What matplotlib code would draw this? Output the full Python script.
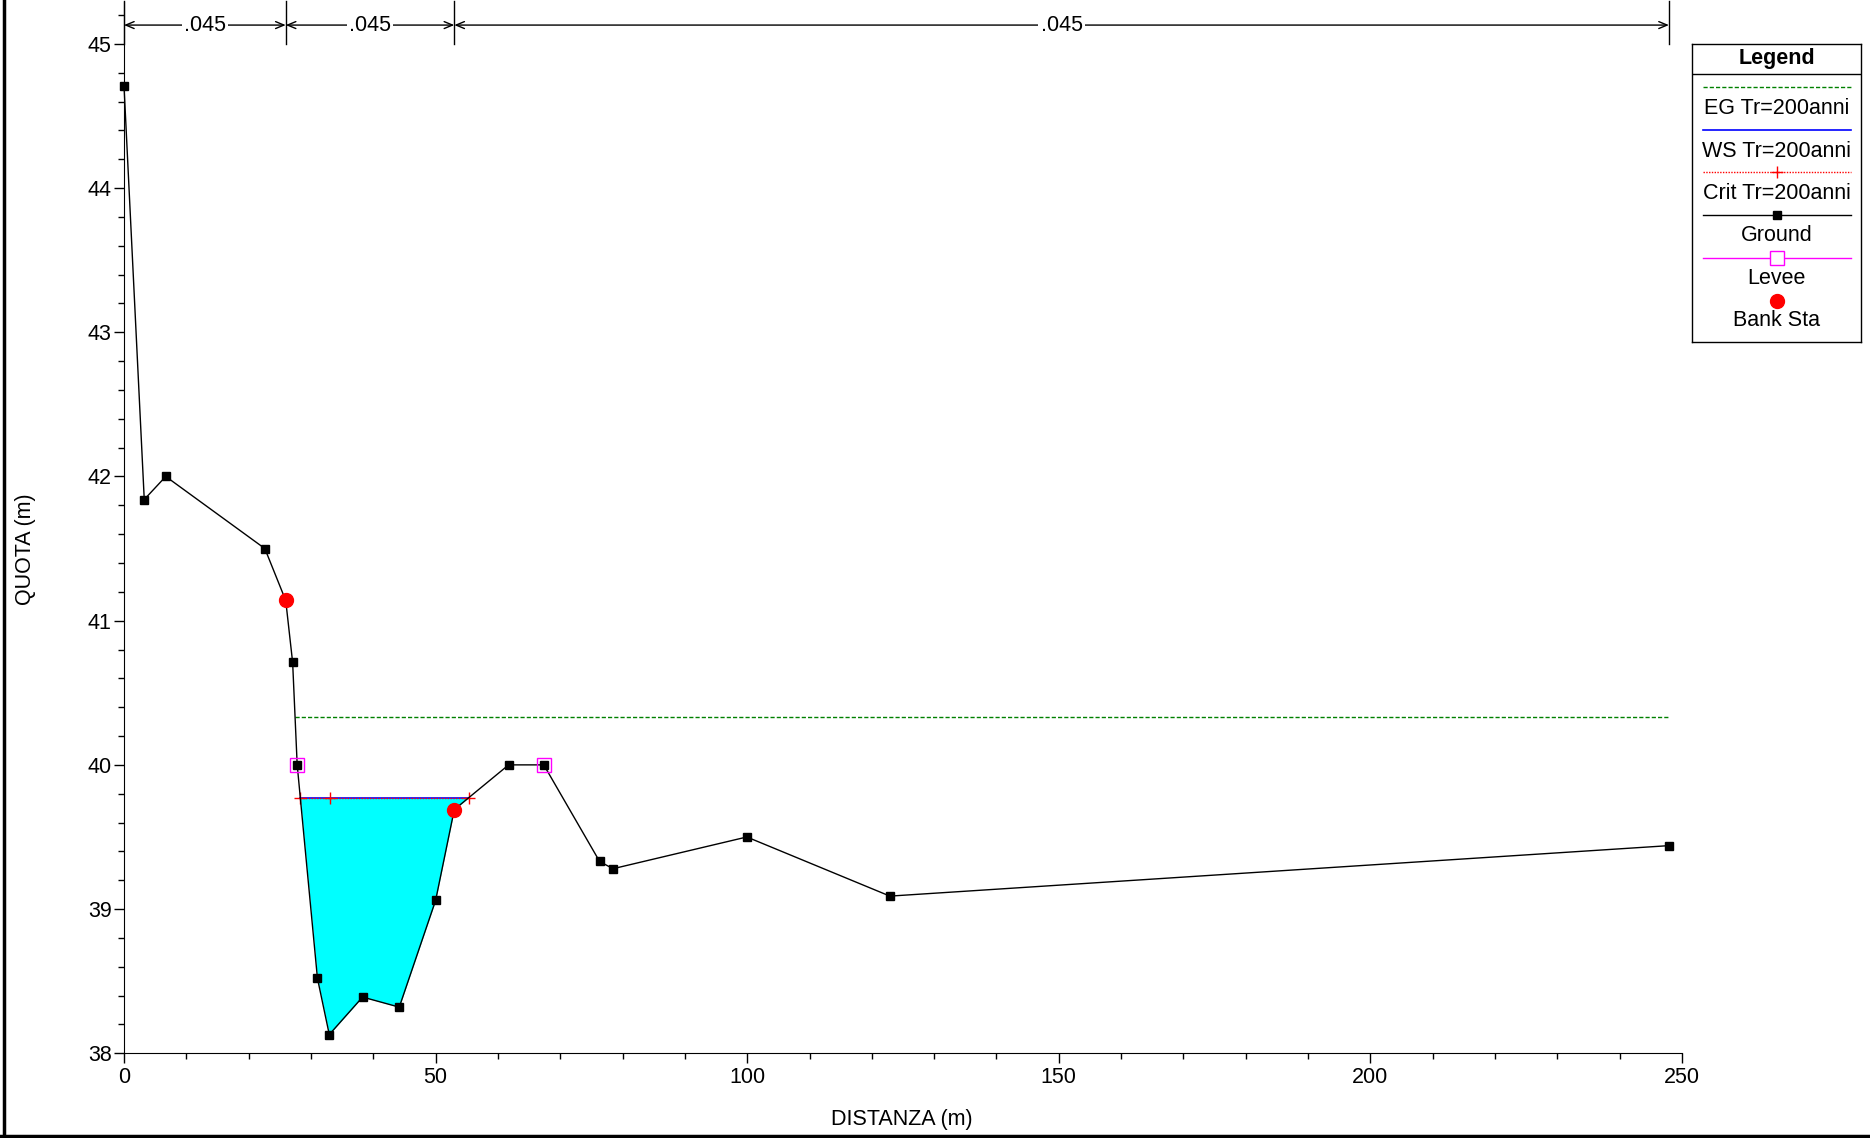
import numpy as np
import matplotlib
matplotlib.use("Agg")
import matplotlib.pyplot as plt
from matplotlib.ticker import MultipleLocator

plt.rcParams['font.family'] = ['Liberation Sans', 'DejaVu Sans']

# Sezione trasversale
ground_x = [0, 3.25, 6.7, 22.6, 25.95, 27.06, 27.79, 31.04, 32.94, 38.28, 44.17,
            50.0, 53.0, 61.72, 67.36, 76.32, 78.47, 99.94, 122.9, 247.9]
ground_y = [44.71, 41.84, 42.0, 41.5, 41.14, 40.71, 40.0, 38.52, 38.13, 38.39, 38.32,
            39.06, 39.69, 40.0, 40.0, 39.33, 39.28, 39.5, 39.09, 39.44]

ws_x = [28.28, 55.34]
ws_level = 39.77
crit_x = [28.28, 33.0, 55.34]
crit_level = 39.77
eg_x = [27.45, 247.9]
eg_level = 40.33

levee_x = [27.79, 67.36]
levee_y = [40.0, 40.0]
bank_x = [25.95, 53.0]
bank_y = [41.14, 39.69]

# coefficienti di Manning
n_bounds = [0, 25.95, 53.0, 247.9]
n_values = [".045", ".045", ".045"]

legend_labels = ["EG Tr=200anni", "WS Tr=200anni", "Crit Tr=200anni",
                 "Ground", "Levee", "Bank Sta"]

FS = 15.5
W, H = 1870, 1138
fig = plt.figure(figsize=(W / 100, H / 100), dpi=100)
ax = fig.add_axes([124 / W, 1 - 1053.3 / H, 1558 / W, 1051.3 / H])
ax.set_xlim(0, 250)
ax.set_ylim(38, 45.29)
for s in ['top', 'right']:
    ax.spines[s].set_visible(False)
ax.xaxis.set_major_locator(MultipleLocator(50))
ax.xaxis.set_minor_locator(MultipleLocator(10))
ax.yaxis.set_major_locator(MultipleLocator(1))
ax.yaxis.set_minor_locator(MultipleLocator(0.2))
ax.set_yticks(np.arange(38, 46, 1))
ax.tick_params(which='major', length=7, width=1, labelsize=FS)
ax.tick_params(which='minor', length=4.5, width=1)
ax.tick_params(axis='x', which='major', pad=3)
ax.tick_params(axis='y', which='major', pad=2)

# area bagnata
gx = np.array(ground_x)
gy = np.array(ground_y)
inside = (gx > ws_x[0]) & (gx < ws_x[1])
fx = np.concatenate([[ws_x[0]], gx[inside], [ws_x[1]]])
fy = np.interp(fx, gx, gy)
ax.fill_between(fx, fy, ws_level, color='#00ffff', lw=0, zorder=1)

ax.plot(eg_x, [eg_level] * 2, color='#008000', ls=(0, (3, 1.5)), lw=1, zorder=2)
ax.plot(ws_x, [ws_level] * 2, color='#0000ff', lw=1.2, zorder=2)
ax.plot(crit_x, [crit_level] * len(crit_x), color='red', ls=(0, (1, 1)), lw=1,
        marker='+', ms=8, mew=1, zorder=3)
ax.plot(ground_x, ground_y, color='black', lw=1, marker='s', ms=6, zorder=4,
        clip_on=False)
ax.plot(levee_x, levee_y, ls='none', marker='s', ms=10, mfc='none', mec='#ff00ff',
        mew=1, zorder=5)
ax.plot(bank_x, bank_y, ls='none', marker='o', ms=10, color='red', zorder=6)

# bande di Manning in alto
y_band = 45.13
for xb in n_bounds:
    ax.plot([xb, xb], [45.0, 45.3], color='black', lw=1, clip_on=False, zorder=5)
for i, val in enumerate(n_values):
    a, b = n_bounds[i], n_bounds[i + 1]
    ax.annotate("", xy=(a, y_band), xytext=(b, y_band), annotation_clip=False,
                arrowprops=dict(arrowstyle='<->,head_length=0.6,head_width=0.25',
                                color='black', lw=1, shrinkA=0, shrinkB=0))
    ax.text((a + b) / 2, y_band, val, ha='center', va='center', fontsize=FS,
            bbox=dict(facecolor='white', edgecolor='none', pad=1.5), clip_on=False)

fig.text(26 / W, 1 - 549 / H, "QUOTA (m)", rotation=90, ha='center', va='center',
         fontsize=FS)
fig.text(902 / W, 1 - 1119 / H, "DISTANZA (m)", ha='center', va='center', fontsize=FS)

# legenda
lg = fig.add_axes([1692 / W, 1 - 342 / H, 169 / W, 298 / H])
lg.set_xlim(0, 169)
lg.set_ylim(298, 0)
lg.set_xticks([])
lg.set_yticks([])
for s in lg.spines.values():
    s.set_linewidth(1)
lg.text(84.5, 14.5, "Legend", ha='center', va='center', fontsize=FS, fontweight='bold')
lg.plot([0, 169], [30, 30], color='black', lw=1)
x0, x1, xm = 10.7, 159, 84.5
sy = [43.3, 85.7, 128.3, 171, 213.7, 257]
ty = [65, 107.5, 149.5, 192, 234.5, 277]
lg.plot([x0, x1], [sy[0]] * 2, color='#008000', ls=(0, (3, 1.5)), lw=1)
lg.plot([x0, x1], [sy[1]] * 2, color='#0000ff', lw=1.2)
lg.plot([x0, x1], [sy[2]] * 2, color='red', ls=(0, (1, 1)), lw=1)
lg.plot([xm], [sy[2]], color='red', marker='+', ms=8, mew=1)
lg.plot([x0, x1], [sy[3]] * 2, color='black', lw=1)
lg.plot([xm], [sy[3]], color='black', marker='s', ms=6)
lg.plot([x0, x1], [sy[4]] * 2, color='#ff00ff', lw=1)
lg.plot([xm], [sy[4]], marker='s', ms=10, mfc='white', mec='#ff00ff', mew=1)
lg.plot([xm], [sy[5]], marker='o', ms=10, color='red')
for t, lab in zip(ty, legend_labels):
    lg.text(xm, t, lab, ha='center', va='center', fontsize=FS)

# cornice a sinistra e in basso
fig.add_artist(plt.Line2D([4 / W, 4 / W], [0, 1], color='black', lw=2.5,
                          transform=fig.transFigure))
fig.add_artist(plt.Line2D([0, 1], [2 / H, 2 / H], color='black', lw=2.5,
                          transform=fig.transFigure))

fig.savefig("out.png", dpi=100)
